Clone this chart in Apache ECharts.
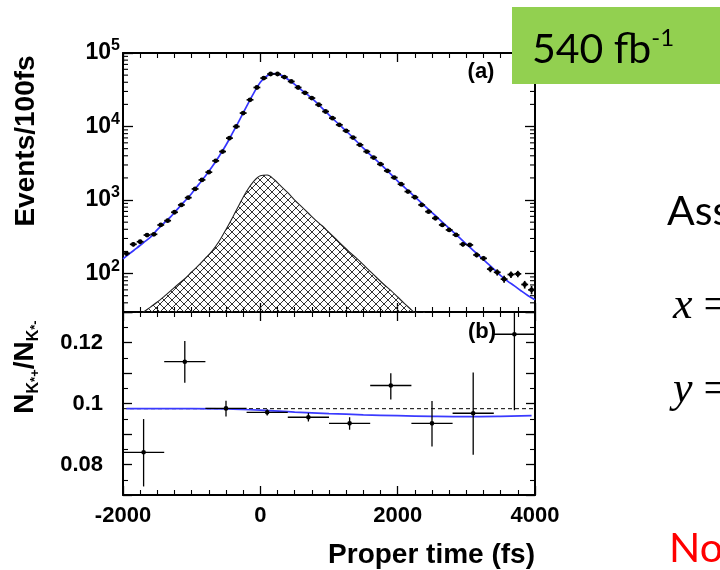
<!DOCTYPE html>
<html><head><meta charset="utf-8">
<script src="https://cdn.jsdelivr.net/npm/echarts@6/dist/echarts.min.js"></script>
<style>html,body{margin:0;padding:0;background:#fff}#c{width:720px;height:570px}</style>
</head><body><div id="c"></div>
<script>
// ---------- data ----------
const binCenters = [-1950,-1850,-1750,-1650,-1550,-1450,-1350,-1250,-1150,-1050,-950,-850,-750,-650,-550,-450,-350,-250,-150,-50,
  50,150,250,350,450,550,650,750,850,950,1050,1150,1250,1350,1450,1550,1650,1750,1850,1950,
  2050,2150,2250,2350,2450,2550,2650,2750,2850,2950,3050,3150,3250,3350,3450,3550,3650,3750,3850,3950];
const counts = [188,250,271,334,342,458,524,682,858,1078,1416,1878,2392,3412,4565,6950,10000,15240,23100,33960,
  45600,51800,51800,47100,41000,33960,28760,24380,19770,16000,13000,10540,8730,7080,5630,4565,3780,3070,2493,2020,
  1641,1303,1092,858,695,565,458,392,335,250,245,179,161,115,104,84,97,99,71,60];
const countsHalfWidth = 50;

const fitTimes = [-2000,-1900,-1800,-1700,-1600,-1500,-1400,-1300,-1200,-1100,-1000,-900,-800,-700,-600,-500,-400,-300,-200,-100,
  0,100,200,300,400,500,600,700,800,900,1000,1100,1200,1300,1400,1500,1600,1700,1800,1900,
  2000,2100,2200,2300,2400,2500,2600,2700,2800,2900,3000,3100,3200,3300,3400,3500,3600,3700,3800,3900,4000];
const fitValues = [158,188,222,264,312,395,490,600,765,965,1230,1620,2120,2850,3950,5600,8300,12400,18800,28000,
  40000,49000,52500,50000,44000,37500,31300,26500,22000,17800,14400,11700,9600,7850,6300,5070,4150,3400,2780,2250,
  1811,1486,1222,1002,822,676,555,455,374,307,252,207,170,140,115,94,79,68,58,50,44];

const bkgTimes = [-1800,-1700,-1600,-1500,-1400,-1300,-1200,-1100,-1000,-900,-800,-700,-600,-500,-400,-300,-200,-100,
  0,100,200,300,400,500,600,700,800,900,1000,1100,1200,1300,1400,1500,1600,1700,1800,1900,2000,2100,2200,2300,2400];
const bkgValues = [25,30,35,41,49,59,71,85,105,129,162,204,275,398,589,891,1318,1778,
  2138,2188,1905,1549,1259,1000,813,661,537,447,363,295,240,195,162,132,107,87,71,59,48,39,32,26,21];

const ratioTimes = [-1700,-1100,-500,100,700,1300,1900,2500,3100,3700];
const ratioValues = [0.0840,0.1137,0.0984,0.0971,0.0955,0.0935,0.1059,0.0935,0.0968,0.1227];
const ratioErrUp = [0.0109,0.0068,0.0025,0.0010,0.0014,0.0020,0.0040,0.0073,0.0134,0.0250];
const ratioErrDown = [0.0112,0.0069,0.0027,0.0010,0.0014,0.0021,0.0046,0.0076,0.0136,0.0249];
const ratioHalfWidth = 300;
const ratioFitTimes = [-1950,-1000,-500,0,500,1000,1500,2000,2500,3000,3500,3950];
const ratioFitValues = [0.0983,0.0983,0.0982,0.0978,0.0972,0.0967,0.0963,0.0960,0.0958,0.0957,0.0958,0.0960];
const ratioReference = 0.0983;

const xTickValues = [-2000,0,2000,4000];
const xTickLabels = ['-2000','0','2000','4000'];
const ratioTickValues = [0.08,0.1,0.12];
const ratioTickLabels = ['0.08','0.1','0.12'];
const logMinorTicks = [40,50,60,70,80,90,200,300,400,500,600,700,800,900,2000,3000,4000,5000,6000,7000,8000,9000,
  20000,30000,40000,50000,60000,70000,80000,90000];

// ---------- drawing ----------
const F = 'Liberation Sans';
const chart = echarts.init(document.getElementById('c'), null, {renderer:'canvas'});

function hatchCanvas(){
  const s = 8, c = document.createElement('canvas');
  c.width = s; c.height = s;
  const g = c.getContext('2d');
  g.strokeStyle = '#333'; g.lineWidth = 1;
  g.beginPath(); g.moveTo(-1,-1); g.lineTo(s+1,s+1); g.moveTo(s+1,-1); g.lineTo(-1,s+1); g.stroke();
  return c;
}

const axLine = {show:true, onZero:false, lineStyle:{color:'#000', width:2}};
function xAx(grid, pos, labels){
  return {type:'value', gridIndex:grid, position:pos, min:-2000, max:4000, interval:2000,
    axisLine:axLine, splitLine:{show:false},
    axisTick:{show:true, inside:true, length:9, lineStyle:{color:'#000', width:1.3}},
    minorTick:{show:true, splitNumber:8, length:5, lineStyle:{color:'#000', width:1.1}},
    axisLabel:{show:labels, margin:10, color:'#000', fontFamily:F, fontWeight:'bold', fontSize:22,
      showMinLabel:true, showMaxLabel:true, hideOverlap:false,
      formatter:v=>{const i = xTickValues.findIndex(t=>Math.abs(t-v)<1e-6); return i>=0?xTickLabels[i]:'';}}};
}
function logAx(pos, labels){
  return {type:'log', logBase:10, gridIndex:0, position:pos, min:30, max:100000,
    axisLine:axLine, splitLine:{show:false},
    axisTick:{show:true, inside:true, length:10, lineStyle:{color:'#000', width:1.3}},
    minorTick:{show:false},
    axisLabel:{show:labels, margin:3, color:'#000', showMinLabel:true, showMaxLabel:true, hideOverlap:false,
      formatter:v=>{const e=Math.round(Math.log10(v)); if(Math.abs(v/Math.pow(10,e)-1)>1e-6) return ''; return '{b|10}{s|'+e+'}';},
      rich:{b:{fontFamily:F, fontWeight:'bold', fontSize:23, lineHeight:30, color:'#000'},
            s:{fontFamily:F, fontWeight:'bold', fontSize:16, lineHeight:16, verticalAlign:'top', color:'#000'}}}};
}
function ratioAx(pos, labels){
  return {type:'value', gridIndex:1, position:pos, min:0.07, max:0.13, interval:0.01,
    axisLine:axLine, splitLine:{show:false},
    axisTick:{show:true, inside:true, length:9, lineStyle:{color:'#000', width:1.3}},
    minorTick:{show:true, splitNumber:2, length:5, lineStyle:{color:'#000', width:1.1}},
    axisLabel:{show:labels, margin:20, color:'#000', fontFamily:F, fontWeight:'bold', fontSize:22,
      showMinLabel:true, showMaxLabel:true, hideOverlap:false,
      formatter:v=>{const i=ratioTickValues.findIndex(t=>Math.abs(t-v)<1e-6); return i>=0?ratioTickLabels[i]:'';}}};
}

const option = {
  animation:false,
  backgroundColor:'#fff',
  grid:[
    {left:123, top:53, width:412, height:259, outerBoundsMode:'none', containLabel:false},
    {left:123, top:312, width:412, height:183, outerBoundsMode:'none', containLabel:false}
  ],
  xAxis:[xAx(0,'bottom',false), xAx(0,'top',false), xAx(1,'bottom',true), xAx(1,'top',false)],
  yAxis:[logAx('left',true), logAx('right',false), ratioAx('left',true), ratioAx('right',false)],
  series:[
    {type:'line', xAxisIndex:0, yAxisIndex:0, z:2, clip:true, smooth:0.35, symbol:'none', silent:true,
     data:bkgTimes.map((t,i)=>[t,bkgValues[i]]),
     lineStyle:{color:'#222', width:1.1},
     areaStyle:{origin:'start', opacity:1, color:{image:hatchCanvas(), repeat:'repeat'}}},
    {type:'line', xAxisIndex:0, yAxisIndex:0, z:3, clip:true, smooth:0.35, symbol:'none', silent:true,
     data:fitTimes.map((t,i)=>[t,fitValues[i]]),
     lineStyle:{color:'#3535ff', width:1.7}},
    {type:'custom', xAxisIndex:0, yAxisIndex:0, z:4, clip:true, silent:true,
     data:binCenters.map((t,i)=>[t,counts[i]]),
     renderItem:(p,api)=>{
       const t=api.value(0), v=api.value(1), e=Math.sqrt(v);
       const c=api.coord([t,v]), l=api.coord([t-countsHalfWidth,v]), r=api.coord([t+countsHalfWidth,v]);
       const u=api.coord([t,v+e]), d=api.coord([t,v-e]);
       const st={stroke:'#000', lineWidth:1.7};
       return {type:'group', children:[
         {type:'line', shape:{x1:l[0],y1:l[1],x2:r[0],y2:r[1]}, style:st},
         {type:'line', shape:{x1:u[0],y1:u[1],x2:d[0],y2:d[1]}, style:st},
         {type:'circle', shape:{cx:c[0],cy:c[1],r:2.4}, style:{fill:'#000'}}]};
     }},
    {type:'custom', xAxisIndex:0, yAxisIndex:0, z:5, clip:false, silent:true,
     data:logMinorTicks.map(v=>[0,v]),
     renderItem:(p,api)=>{
       const v=api.value(1), a=api.coord([-2000,v]), b=api.coord([4000,v]);
       const st={stroke:'#000', lineWidth:1.1};
       return {type:'group', children:[
         {type:'line', shape:{x1:a[0],y1:a[1],x2:a[0]+5,y2:a[1]}, style:st},
         {type:'line', shape:{x1:b[0]-5,y1:b[1],x2:b[0],y2:b[1]}, style:st}]};
     }},
    {type:'line', xAxisIndex:2, yAxisIndex:2, z:2, symbol:'none', silent:true,
     data:[[-2000,ratioReference],[4000,ratioReference]],
     lineStyle:{color:'#000', width:1, type:[4,3]}},
    {type:'line', xAxisIndex:2, yAxisIndex:2, z:3, smooth:0.4, symbol:'none', silent:true,
     data:ratioFitTimes.map((t,i)=>[t,ratioFitValues[i]]),
     lineStyle:{color:'#3a3aff', width:1.7}},
    {type:'custom', xAxisIndex:2, yAxisIndex:2, z:4, clip:true, silent:true,
     data:ratioTimes.map((t,i)=>[t,ratioValues[i],ratioErrUp[i],ratioErrDown[i]]),
     renderItem:(p,api)=>{
       const t=api.value(0), v=api.value(1), eu=api.value(2), ed=api.value(3);
       const c=api.coord([t,v]), l=api.coord([t-ratioHalfWidth,v]), r=api.coord([t+ratioHalfWidth,v]);
       const u=api.coord([t,v+eu]), d=api.coord([t,v-ed]);
       const st={stroke:'#000', lineWidth:1.3};
       return {type:'group', children:[
         {type:'line', shape:{x1:l[0],y1:l[1],x2:r[0],y2:r[1]}, style:st},
         {type:'line', shape:{x1:u[0],y1:u[1],x2:d[0],y2:d[1]}, style:st},
         {type:'circle', shape:{cx:c[0],cy:c[1],r:2.3}, style:{fill:'#000'}}]};
     }}
  ],
  graphic:[
    {type:'text', x:26, y:141, rotation:Math.PI/2, z:50,
     style:{text:'Events/100fs', fontFamily:F, fontWeight:'bold', fontSize:28, fill:'#000', align:'center', verticalAlign:'middle'}},
    {type:'text', x:25, y:367, rotation:Math.PI/2, z:50,
     style:{text:'{n|N}{k|K}{p|*+}{n|/N}{k|K}{p|*-}', align:'center', verticalAlign:'middle',
       rich:{n:{fontFamily:F, fontWeight:'bold', fontSize:28, lineHeight:34, fill:'#000'},
             k:{fontFamily:F, fontWeight:'bold', fontSize:16, lineHeight:16, verticalAlign:'bottom', fill:'#000'},
             p:{fontFamily:F, fontWeight:'bold', fontSize:13, lineHeight:30, verticalAlign:'bottom', fill:'#000'}}}},
    {type:'text', x:535, y:555, z:50,
     style:{text:'Proper time (fs)', fontFamily:F, fontWeight:'bold', fontSize:28, fill:'#000', align:'right', verticalAlign:'middle'}},
    {type:'text', x:481, y:72, z:50,
     style:{text:'(a)', fontFamily:F, fontWeight:'bold', fontSize:22, fill:'#000', align:'center', verticalAlign:'middle'}},
    {type:'text', x:482, y:332, z:50,
     style:{text:'(b)', fontFamily:F, fontWeight:'bold', fontSize:22, fill:'#000', align:'center', verticalAlign:'middle'}},
    {type:'rect', z:100, shape:{x:512, y:7, width:208, height:77}, style:{fill:'#92D050'}},
    {type:'text', x:532, y:50, z:101,
     style:{text:'{m|540 fb}{s|-1}', verticalAlign:'middle',
       rich:{m:{fontFamily:'Lato', fontSize:41, lineHeight:48, fill:'#000'},
             s:{fontFamily:'Lato', fontSize:24, lineHeight:26, verticalAlign:'top', fill:'#000'}}}},
    {type:'text', x:667, y:212, z:101,
     style:{text:'Ass', fontFamily:'Lato', fontSize:41, fill:'#000', verticalAlign:'middle'}},
    {type:'text', x:673, y:306, z:101,
     style:{text:'{i|x}{n| =}', verticalAlign:'middle',
       rich:{i:{fontFamily:'Liberation Serif', fontStyle:'italic', fontSize:44, fill:'#000'},
             n:{fontFamily:'Liberation Serif', fontSize:44, fill:'#000'}}}},
    {type:'text', x:673, y:390, z:101,
     style:{text:'{i|y}{n| =}', verticalAlign:'middle',
       rich:{i:{fontFamily:'Liberation Serif', fontStyle:'italic', fontSize:44, fill:'#000'},
             n:{fontFamily:'Liberation Serif', fontSize:44, fill:'#000'}}}},
    {type:'text', x:669, y:549, z:101,
     style:{text:'No', fontFamily:'Lato', fontSize:41, fill:'#ff0000', verticalAlign:'middle'}}
  ]
};
chart.setOption(option);
</script>
</body></html>
